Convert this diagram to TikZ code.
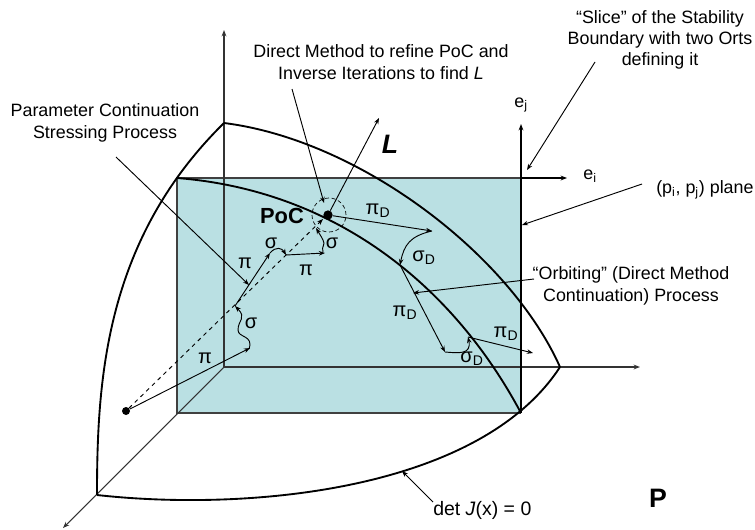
\documentclass[tikz,border=0pt]{standalone}
\usepackage{fontspec}
\setmainfont{Liberation Sans}
\usetikzlibrary{arrows.meta,positioning,calc}

\definecolor{planeblue}{HTML}{BAE0E3}

\begin{document}
\begin{tikzpicture}[x=0.75pt, y=-0.75pt,
  txt/.style={align=center, font=\fontsize{13.4}{16}\selectfont, inner sep=0pt},
  sym/.style={font=\fontsize{13.4}{15}\selectfont, inner sep=0pt},
  greek/.style={font=\fontsize{15}{15}\selectfont, inner sep=0pt},
  big/.style={font=\fontsize{16.4}{18}\selectfont\bfseries, inner sep=0pt},
  huge/.style={font=\fontsize{20}{22}\selectfont\bfseries, inner sep=0pt},
  axis/.style={-{Stealth[length=1.7mm]}, black!80, line width=0.8pt},
  ort/.style={-{Stealth[length=1.7mm]}, black, line width=0.8pt},
  msg/.style={-{Stealth[length=1.6mm]}, line width=0.7pt},
  bound/.style={line width=1.4pt},
  dot/.style={circle, fill=black, inner sep=0pt, minimum size=7pt},
]
  \useasboundingbox (0,0) rectangle (755,529);

  % Plane of the two orts
  \fill[planeblue] (177,178) rectangle (521,413);
  \coordinate (o) at (224,367);
  \coordinate (cA) at (97,495);
  \coordinate (cB) at (224,123);
  \coordinate (cC) at (560,367);
  \coordinate (pA) at (177,178);
  \coordinate (pB) at (521,413);
  \coordinate (pC) at (521,178);
  \coordinate (pD) at (177,413);
  \draw[black!75, line width=0.9pt] (pC) -- (pA) -- (pD) -- (pB);

  % Axes
  \coordinate (xTip) at (640,367);
  \coordinate (yTip) at (224,30);
  \coordinate (zTip) at (63,528);
  \draw[axis] (o) -- (yTip);
  \draw[axis] (o) -- (xTip);
  \draw[axis] (o) -- (zTip);

  % Orts of the slice
  \coordinate (eiTip) at (567,178);
  \coordinate (ejTip) at (521,124);
  \draw[ort] (pC) -- (eiTip);
  \draw[ort] (pB) -- (ejTip);

  % Stability boundary
  \draw[bound] (cA) .. controls (97,380) and (105,240) .. (cB);
  \draw[bound] (cB) .. controls (360,140) and (510,255) .. (cC);
  \draw[bound] (cC) .. controls (480,490) and (250,512) .. (cA);
  \draw[bound] (pA) .. controls (330,190) and (450,280) .. (pB);

  % Start point and PoC
  \node[dot, minimum size=6pt] (start) at (126,411) {};
  \node[dot] (poc) at (328,215) {};
  \node[circle, draw, densely dashed, line width=0.5pt, minimum size=25.5pt, inner sep=0pt] (ring) at (329,215) {};
  \coordinate (dashEnd) at (323,219);
  \coordinate (lTip) at (379,118);
  \draw[msg, dashed] (start) -- (dashEnd);
  \draw[msg] (poc) -- (lTip);

  % Parameter continuation
  \coordinate (a1) at (250,348);
  \coordinate (a2) at (235,306);
  \coordinate (a3) at (270,253);
  \coordinate (a4) at (286,255);
  \coordinate (a5) at (325,253);
  \coordinate (a6) at (316,228);
  \draw[msg] (start) -- (a1);
  \draw[msg] (249,349) .. controls (254,335) and (238,338) .. (238,330)
    .. controls (238,320) and (247,318) .. (a2);
  \draw[msg] (a2) -- (a3);
  \draw[msg] (270,253) .. controls (276,246) and (282,248) .. (a4);
  \draw[msg] (a4) -- (a5);
  \draw[msg] (323,252) .. controls (321,246) and (326,245) .. (323,240)
    .. controls (321,236) and (319,233) .. (a6);

  % Orbiting
  \coordinate (b1) at (432,231);
  \coordinate (b2) at (400,265);
  \coordinate (b3) at (445,352);
  \coordinate (b4) at (468,337);
  \coordinate (b5) at (533,353);
  \draw[msg] (poc) -- (b1);
  \draw[msg] (b1) .. controls (410,236) and (404,245) .. (b2);
  \draw[msg] (b2) -- (b3);
  \draw[msg] (b3) .. controls (458,353) and (472,355) .. (b4);
  \draw[msg] (b4) -- (b5);

  % Texts
  \node[txt] (stress) at (105,123) {Parameter Continuation\\Stressing Process};
  \node[txt] (direct) at (381,62) {Direct Method to refine PoC and\\Inverse Iterations to find \textit{L}};
  \node[txt] (slice) at (660,40) {“Slice” of the Stability\\Boundary with two Orts\\defining it};
  \node[txt, anchor=west] (plane) at (656,190) {(p\textsubscript{i}, p\textsubscript{j}) plane};
  \node[txt] (orbit) at (631,286) {“Orbiting” (Direct Method\\Continuation) Process};
  \node[txt, anchor=west, font=\fontsize{14.6}{16}\selectfont] (det) at (433,510) {det \textit{J}(x) = 0};
  \node[sym] (ej) at (521,105) {e\textsubscript{j}};
  \node[sym] (ei) at (590,176) {e\textsubscript{i}};
  \node[huge] (lbl) at (390,144) {\itshape L};
  \node[big] (pocL) at (282,216) {PoC};
  \node[huge] (P) at (658,498) {P};

  % Pointers
  \coordinate (stressA) at (116,157);
  \coordinate (directA) at (292,89);
  \coordinate (sliceA) at (595,62);
  \coordinate (planeA) at (642,184);
  \coordinate (orbitA) at (534,279);
  \coordinate (detA) at (433,502);
  \draw[msg] (stressA) -- (249,285);
  \draw[msg] (directA) -- (324,203);
  \draw[msg] (sliceA) -- (527,170);
  \draw[msg] (planeA) -- (522,225);
  \draw[msg] (orbitA) -- (413,293);
  \draw[msg] (detA) -- (402,471);

  % Greek labels
  \foreach \x/\y/\t [count=\i] in {
      205/358/{π}, 251/323/{σ}, 245/263/{π}, 271/243/{σ}, 306/270/{π}, 332/243/{σ},
      378/211/{π\textsubscript{D}}, 424/258/{σ\textsubscript{D}}, 405/313/{π\textsubscript{D}},
      472/359/{σ\textsubscript{D}}, 506/334/{π\textsubscript{D}}} {
    \node[greek] (g\i) at (\x,\y) {\t};
  }
\end{tikzpicture}
\end{document}
